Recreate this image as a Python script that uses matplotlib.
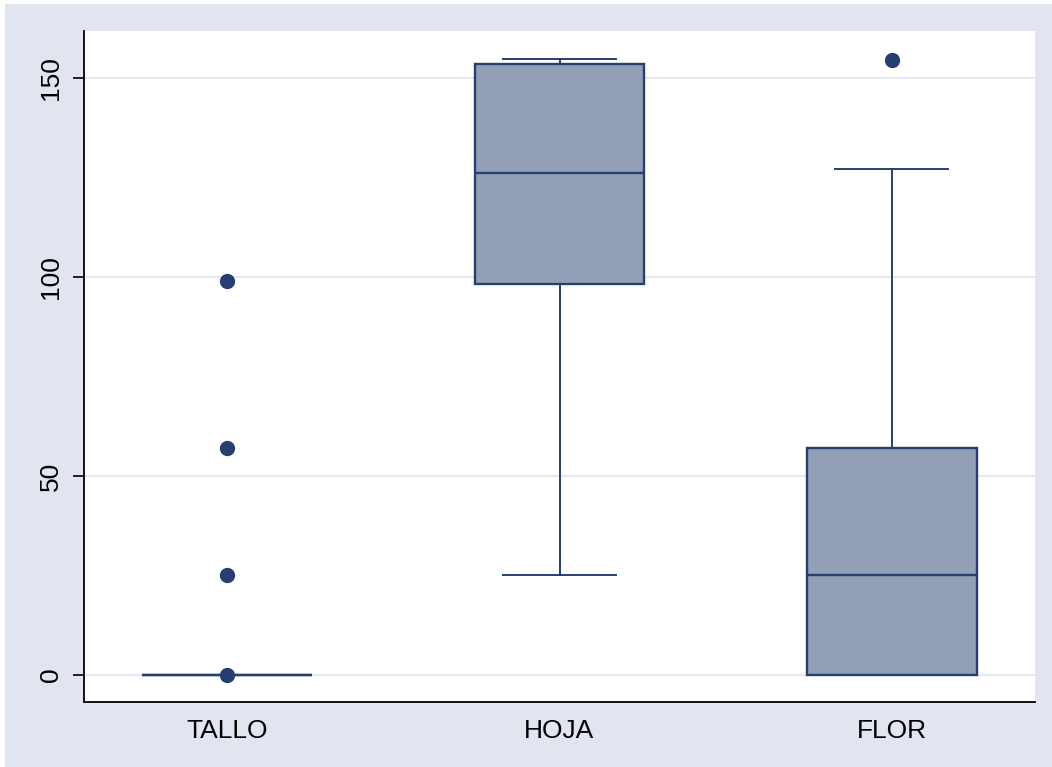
import matplotlib.pyplot as plt
from matplotlib.patches import Rectangle

# box summaries per plant part
labels = ["TALLO", "HOJA", "FLOR"]
whislo = [0, 25, 0]
q1 = [0, 98.2, 0]
med = [0, 126.2, 25]
q3 = [0, 153.6, 57]
whishi = [0, 154.8, 127.2]
fliers = [[0, 25, 57, 99.1], [], [154.6]]

navy = "#263f72"
fill = "#939fb6"
bg = "#e0e5f0"

plt.rcParams["font.family"] = ["Liberation Sans", "DejaVu Sans"]

fig = plt.figure(figsize=(10.52, 7.67), dpi=100, facecolor="white")
fig.patches.append(Rectangle((5 / 1052, 0), 1 - 5 / 1052, 1 - 4 / 767,
                             transform=fig.transFigure, facecolor=bg,
                             edgecolor="none", zorder=-10))
ax = fig.add_axes([84 / 1052, 65 / 767, 951 / 1052, 671 / 767])
ax.set_facecolor("white")

stats = []
for i, lab in enumerate(labels):
    stats.append(dict(label=lab, whislo=whislo[i], q1=q1[i], med=med[i],
                      q3=q3[i], whishi=whishi[i], fliers=fliers[i]))

ax.bxp(stats, positions=[1, 2, 3], widths=0.51, patch_artist=True,
       showfliers=True, capwidths=0.34,
       boxprops=dict(facecolor=fill, edgecolor=navy, linewidth=1.7),
       medianprops=dict(color=navy, linewidth=1.7),
       whiskerprops=dict(color=navy, linewidth=1.4),
       capprops=dict(color=navy, linewidth=1.4),
       flierprops=dict(marker="o", markerfacecolor=navy, markeredgecolor=navy,
                       markersize=10, linestyle="none"),
       zorder=3)

ax.set_xlim(0.569, 3.431)
ax.set_ylim(-6.8, 161.8)
ax.set_yticks([0, 50, 100, 150])
ax.set_xticks([1, 2, 3])
ax.set_xticklabels(labels)
ax.yaxis.grid(True, color="#e4e8f1", linewidth=1.4, zorder=0)
ax.set_axisbelow(True)

for s in ["top", "right"]:
    ax.spines[s].set_visible(False)
for s in ["left", "bottom"]:
    ax.spines[s].set_linewidth(1.3)
    ax.spines[s].set_color("black")

ax.tick_params(axis="y", length=8, width=1.2, pad=7, labelsize=19,
               labelrotation=90)
ax.tick_params(axis="x", length=0, pad=12, labelsize=19)
for t in ax.get_yticklabels():
    t.set_va("center")

fig.savefig("out.png", dpi=100, facecolor=fig.get_facecolor())
